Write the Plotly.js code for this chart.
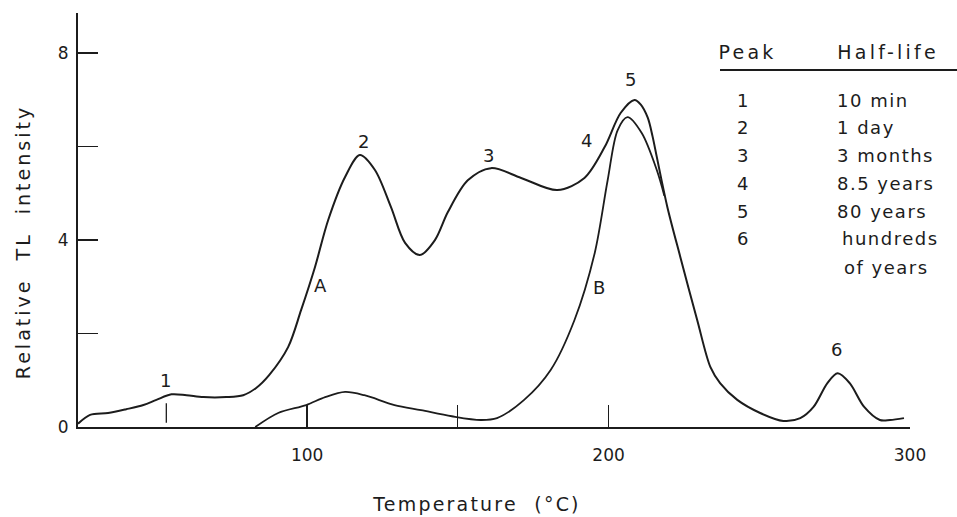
<!DOCTYPE html>
<html>
<head>
<meta charset="utf-8">
<script src="https://cdn.plot.ly/plotly-3.0.1.min.js"></script>
<style>
  html, body { margin: 0; padding: 0; background: #ffffff; }
  #chart { width: 957px; height: 517px; }
  .annotation-text { letter-spacing: 1.5px; }
  .xtitle { letter-spacing: 2.2px; }
  .ytitle { letter-spacing: 3px; }
</style>
</head>
<body>
<div id="chart"></div>
<script>
// ---- Data (temperature in °C, relative TL intensity) ----
const curveA_T = [24, 28, 34, 40, 45.7, 50, 55, 60, 65.6, 73.2, 78.8, 83, 87.4, 93.7, 98, 102.6, 107, 112.6, 117.5, 122.5, 127.8, 132.5, 137.4, 142.4, 146.7, 153.3, 161, 171, 183, 192, 198.7, 204, 208.6, 210.7, 213, 214.6, 216, 219.5, 223.8, 229.4, 233.8, 237, 242.7, 250.3, 258, 263.6, 268, 272.6, 276, 280, 284.8, 290, 293.4, 298];
const curveA_I = [0.07, 0.26, 0.30, 0.38, 0.47, 0.58, 0.70, 0.68, 0.64, 0.64, 0.68, 0.83, 1.11, 1.71, 2.50, 3.42, 4.43, 5.35, 5.82, 5.50, 4.71, 3.94, 3.68, 4.00, 4.60, 5.28, 5.54, 5.33, 5.07, 5.33, 5.99, 6.72, 7.00, 6.90, 6.62, 6.22, 5.78, 4.71, 3.64, 2.29, 1.28, 0.94, 0.58, 0.30, 0.13, 0.19, 0.43, 0.94, 1.15, 0.94, 0.43, 0.15, 0.15, 0.19];

const curveB_T = [82.8, 90.4, 99.7, 106, 112.6, 119, 129, 137.8, 148, 157.6, 163, 172, 180.8, 188.7, 195.4, 199.7, 203, 206.3, 211, 216, 218.5];
const curveB_I = [0.00, 0.30, 0.47, 0.64, 0.75, 0.68, 0.47, 0.36, 0.23, 0.15, 0.19, 0.58, 1.22, 2.29, 3.72, 5.28, 6.35, 6.63, 6.29, 5.50, 4.95];

// Peak labels on the curves
const peakLabelText = ['1', '2', 'A', '3', '4', '5', 'B', '6'];
const peakLabelT    = [53.3, 118.9, 104.6, 160.6, 193, 207.6, 197, 276];
const peakLabelI    = [1.00, 6.10, 3.02, 5.82, 6.14, 7.44, 2.99, 1.65];

// Marker under peak 1
const peak1MarkT = 53.3;
const peak1MarkI = [0.09, 0.51];

// Axis ticks
const xTickVals = [100, 150, 200, 300];
const xTickText = ['100', '', '200', '300'];
const yTickVals = [0, 2, 4, 6, 8];
const yTickText = ['0', '', '4', '', '8'];

// Half-life table
const tableHeader = ['Peak', 'Half-life'];
const tablePeaks = ['1', '2', '3', '4', '5', '6'];
const tableHalfLives = ['10 min', '1 day', '3 months', '8.5 years', '80 years', 'hundreds', 'of years'];

// ---- Layout helpers (pixel geometry of the reference) ----
const W = 957, H = 517;
const M = { l: 78, r: 47, t: 13, b: 90 };
const PW = W - M.l - M.r, PH = H - M.t - M.b;
const px2x = px => (px - M.l) / PW;
const py2y = py => (H - M.b - py) / PH;

const FONT = 'DejaVu Sans, Arial, sans-serif';
const INK = '#1c1c1c';

const traces = [
  { x: curveA_T, y: curveA_I, type: 'scatter', mode: 'lines', name: 'A',
    line: { color: INK, width: 2, shape: 'spline', smoothing: 0.9 }, hoverinfo: 'x+y' },
  { x: curveB_T, y: curveB_I, type: 'scatter', mode: 'lines', name: 'B',
    line: { color: INK, width: 1.8, shape: 'spline', smoothing: 0.9 }, hoverinfo: 'x+y' }
];

const annotations = [];
peakLabelText.forEach((t, i) => {
  annotations.push({ x: peakLabelT[i], y: peakLabelI[i], xref: 'x', yref: 'y', text: t,
    showarrow: false, font: { family: FONT, size: 18, color: INK } });
});

// table header
const headX = [720, 843];
const headIdx = [];
tableHeader.forEach((h, i) => {
  headIdx.push(annotations.length);
  annotations.push({ xref: 'paper', yref: 'paper', x: px2x(headX[i]), y: py2y(52), xanchor: 'left', yanchor: 'middle',
    text: h, showarrow: false, font: { family: FONT, size: 19, color: INK } });
});
// wider letter spacing for the header
const st = document.createElement('style');
st.textContent = headIdx.map(k => 'g.annotation[data-index="' + k + '"] .annotation-text').join(', ') + ' { letter-spacing: 3.2px; }';
document.head.appendChild(st);

const rowY = [100, 127.5, 155, 183, 211, 238];
tablePeaks.forEach((p, i) => {
  annotations.push({ xref: 'paper', yref: 'paper', x: px2x(743), y: py2y(rowY[i]), xanchor: 'center', yanchor: 'middle',
    text: p, showarrow: false, font: { family: FONT, size: 18, color: INK } });
});
const hlY = [100, 127.5, 155, 183, 211, 238, 267];
const hlX = [835, 835, 835, 835, 835, 840, 842];
tableHalfLives.forEach((h, i) => {
  annotations.push({ xref: 'paper', yref: 'paper', x: px2x(hlX[i]), y: py2y(hlY[i]), xanchor: 'left', yanchor: 'middle',
    text: h, showarrow: false, font: { family: FONT, size: 18, color: INK } });
});

const shapes = [
  // table rule
  { type: 'line', xref: 'paper', yref: 'paper', x0: px2x(720), x1: px2x(957), y0: py2y(70), y1: py2y(70),
    line: { color: INK, width: 2 } },
  // peak 1 marker
  { type: 'line', xref: 'x', yref: 'y', x0: peak1MarkT, x1: peak1MarkT, y0: peak1MarkI[0], y1: peak1MarkI[1],
    line: { color: INK, width: 1.3 } }
];

const layout = {
  width: W, height: H,
  margin: M,
  paper_bgcolor: '#ffffff', plot_bgcolor: '#ffffff',
  showlegend: false,
  font: { family: FONT, color: INK, size: 17 },
  xaxis: {
    range: [24, 300], showgrid: false, zeroline: false,
    showline: true, linecolor: INK, linewidth: 2,
    tickmode: 'array', tickvals: xTickVals, ticktext: xTickText,
    ticks: 'inside', ticklen: 22, tickwidth: 1.3, tickcolor: INK,
    ticklabelstandoff: 12,
    tickfont: { family: FONT, size: 17, color: INK },
    title: { text: 'Temperature  (°C)', font: { family: FONT, size: 19, color: INK }, standoff: 33 },
    automargin: false
  },
  yaxis: {
    range: [0, 8.86], showgrid: false, zeroline: false,
    showline: true, linecolor: INK, linewidth: 2,
    tickmode: 'array', tickvals: yTickVals, ticktext: yTickText,
    ticks: 'inside', ticklen: 20, tickwidth: 1.5, tickcolor: INK,
    ticklabelstandoff: 4,
    tickfont: { family: FONT, size: 17, color: INK },
    title: { text: 'Relative  TL  intensity', font: { family: FONT, size: 19, color: INK }, standoff: 22 },
    automargin: false
  },
  annotations: annotations,
  shapes: shapes
};

Plotly.newPlot('chart', traces, layout, { displayModeBar: false, staticPlot: true }).then(gd => {
  // the reference's axis titles sit slightly off-centre
  const xt = gd.querySelector('.xtitle');
  if (xt) xt.setAttribute('transform', 'translate(-17,0) ' + (xt.getAttribute('transform') || ''));
  const yt = gd.querySelector('.ytitle');
  if (yt) yt.setAttribute('transform', 'translate(0,22) ' + (yt.getAttribute('transform') || ''));
});
</script>
</body>
</html>
